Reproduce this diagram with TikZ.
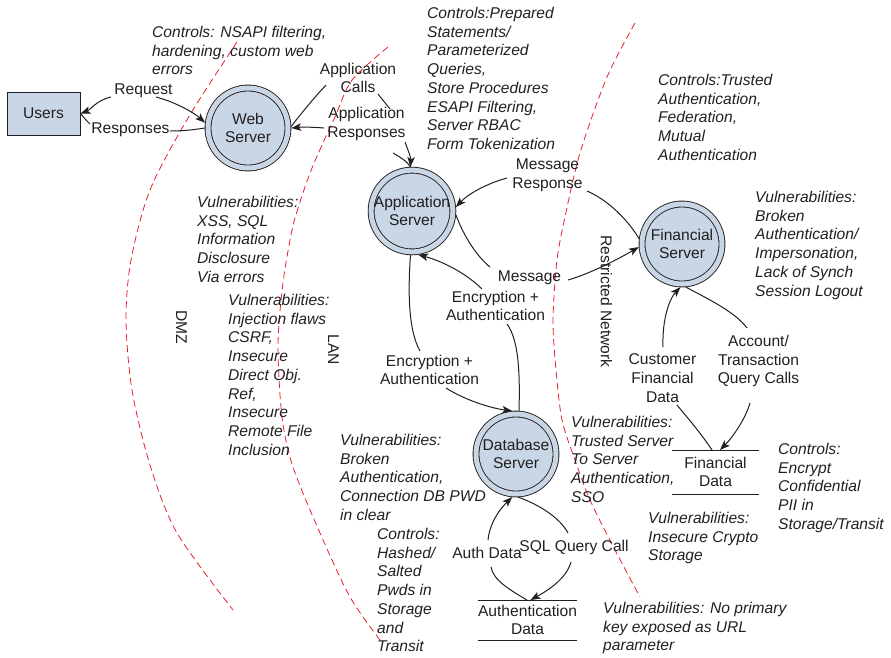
\documentclass[tikz,border=0pt]{standalone}
\usepackage{fontspec}
\setmainfont{Liberation Sans}
\usetikzlibrary{arrows.meta}
\definecolor{ink}{RGB}{35,31,32}
\definecolor{procfill}{RGB}{200,214,230}
\definecolor{zonered}{RGB}{232,32,42}
\begin{document}
\begin{tikzpicture}[x=1pt,y=-1pt,
  every node/.style={text=ink},
  basefont/.style={font=\fontsize{15.6}{18.7}\selectfont},
  proc/.style={basefont, circle, draw=ink, line width=0.9pt, fill=procfill, double=procfill,
    double distance=5pt, minimum size=80pt, inner sep=0pt, outer sep=3.2pt, align=center},
  ent/.style={basefont, rectangle, draw=ink, line width=1pt, fill=procfill,
    minimum width=73pt, minimum height=43pt},
  store/.style={basefont, inner sep=0pt, outer sep=0pt, align=center},
  storeline/.style={draw=ink, line width=1pt},
  lbl/.style={basefont, align=center, inner sep=0pt},
  note/.style={font=\fontsize{15.6}{18.7}\selectfont\itshape, align=left, anchor=north west, inner sep=0pt},
  conn/.style={draw=ink, line width=1pt},
  arr/.style={conn, -{Stealth[length=10pt,width=7.5pt,inset=2.5pt]}},
  zone/.style={draw=zonered, line width=0.8pt, dash pattern=on 7pt off 4pt}
]
\useasboundingbox (0,0) rectangle (891,657);

% zone boundaries
\draw[zone] plot[smooth] coordinates {(237,42) (188,118) (150,190) (131,260) (126,320) (132,390) (150,465) (177,533) (233,610)};
\draw[zone] plot[smooth] coordinates {(388,47) (352,80) (335,117) (322,145) (310,173) (300,202) (292,230) (283,283) (278,345) (282,417) (293,467) (320,533) (350,597) (380,640)};
\draw[zone] plot[smooth] coordinates {(635,23) (607,77) (580,153) (565,217) (557,260) (553,320) (556,370) (562,420) (575,460) (590,500) (615,550) (640,597)};

% zone labels
\node[lbl, rotate=-90] (ldmz) at (181.5,327.5) {DMZ};
\node[lbl, rotate=-90] (llan) at (333.5,350) {LAN};
\node[lbl, rotate=-90] (lrn) at (606.5,301.5) {Restricted Network};

% entities and processes
\node[ent] (users) at (43.5,113.5) {Users};
\node[proc] (web) at (248,128) {Web\\Server};
\node[proc] (app) at (412,211) {Application\\Server};
\node[proc] (fin) at (682,244) {Financial\\Server};
\node[proc] (db) at (516,454) {Database\\Server};

% data stores
\node[store, minimum width=87pt, minimum height=44pt] (fd) at (715.5,472) {Financial\\Data};
\node[store, minimum width=97pt, minimum height=40pt] (ad) at (527.5,620) {Authentication\\Data};
\draw[storeline] (fd.north west) -- (fd.north east) (fd.south west) -- (fd.south east);
\draw[storeline] (ad.north west) -- (ad.north east) (ad.south west) -- (ad.south east);

% flow labels
\node[lbl] (lreq) at (143.5,91) {Request};
\node[lbl] (lresp) at (130.5,130) {Responses};
\node[lbl] (lac) at (358,78) {Application\\Calls};
\node[lbl] (lar) at (366.5,124) {Application\\Responses};
\node[lbl] (lmr) at (547.5,175) {Message\\Response};
\node[lbl] (lm) at (529.5,278) {Message};
\node[lbl] (le1) at (495.5,306) {Encryption +\\Authentication};
\node[lbl] (le2) at (429.5,370) {Encryption +\\Authentication};
\node[lbl] (lcf) at (662.5,378) {Customer\\Financial\\Data};
\node[lbl] (laq) at (758.5,361) {Account/\\Transaction\\Query Calls};
\node[lbl] (lad) at (487,553) {Auth Data};
\node[lbl] (lsq) at (574,547) {SQL Query Call};

% annotations
\node[note] (n1) at (152,26) {Controls: NSAPI filtering,\\hardening, custom web\\errors};
\node[note] (n2) at (427,7) {Controls:Prepared\\Statements/\\Parameterized\\Queries,\\Store Procedures\\ESAPI Filtering,\\Server RBAC\\Form Tokenization};
\node[note] (n3) at (658,74) {Controls:Trusted\\Authentication,\\Federation,\\Mutual\\Authentication};
\node[note] (n4) at (755,191) {Vulnerabilities:\\Broken\\Authentication/\\Impersonation,\\Lack of Synch\\Session Logout};
\node[note] (n5) at (197,196) {Vulnerabilities:\\XSS, SQL\\Information\\Disclosure\\Via errors};
\node[note] (n6) at (228,294) {Vulnerabilities:\\Injection flaws\\CSRF,\\Insecure\\Direct Obj.\\Ref,\\Insecure\\Remote File\\Inclusion};
\node[note] (n7) at (340,434) {Vulnerabilities:\\Broken\\Authentication,\\Connection DB PWD\\in clear};
\node[note] (n8) at (377,528) {Controls:\\Hashed/\\Salted\\Pwds in\\Storage\\and\\Transit};
\node[note] (n9) at (571,416) {Vulnerabilities:\\Trusted Server\\To Server\\Authentication,\\SSO};
\node[note] (n10) at (648,512) {Vulnerabilities:\\Insecure Crypto\\Storage};
\node[note] (n11) at (778,443) {Controls:\\Encrypt\\Confidential\\PII in\\Storage/Transit};
\node[note] (n12) at (603,602) {Vulnerabilities: No primary\\key exposed as URL\\parameter};

% connector end points near labels
\coordinate (rq1) at (111,97);
\coordinate (rq2) at (156,97);
\coordinate (rs1) at (170,131);
\coordinate (rs2) at (90,124);
\coordinate (ac1) at (326,85);
\coordinate (ac2) at (378,94);
\coordinate (ac3) at (390,109);
\coordinate (ac4) at (393,153);
\coordinate (ar1) at (324,128);
\coordinate (ar2) at (405,142);
\coordinate (mr1) at (587,191);
\coordinate (mr2) at (507,178);
\coordinate (m1) at (490,267);
\coordinate (m2) at (568,280);
\coordinate (e1) at (507,324);
\coordinate (e2) at (482,289);
\coordinate (e3) at (420,351);
\coordinate (e4) at (446,388);
\coordinate (cf1) at (677,405);
\coordinate (cf2) at (663,347);
\coordinate (aq1) at (747,328);
\coordinate (aq2) at (750,403);
\coordinate (ad1) at (491,567);
\coordinate (ad2) at (488,540);
\coordinate (sq1) at (568,533);
\coordinate (sq2) at (571,562);

% Request / Responses
\draw[arr] (rq1) .. controls (97,100) and (90,110) .. (users.east);
\draw[arr] (rq2) .. controls (175,102) and (193,112) .. (web.173);
\draw[conn] (web.180) .. controls (192,130) and (182,131) .. (rs1);
\draw[conn] (rs2) .. controls (87,121) and (84,118) .. (users.east);

% Application Calls / Responses
\draw[conn] (ac1) .. controls (312,100) and (300,115) .. (web.2);
\draw[arr] (ar1) .. controls (312,127) and (302,127) .. (web.0);
\draw[conn] (ac2) -- (ac3);
\draw[arr] (ar2) .. controls (408,150) and (411,158) .. (app.92);
\draw[conn] (ac4) .. controls (400,157) and (408,162) .. (app.92);

% Message Response
\draw[conn] (mr1) .. controls (608,200) and (628,220) .. (fin.173);
\draw[arr] (mr2) .. controls (485,184) and (467,195) .. (app.5);

% Message
\draw[conn] (app.-5) .. controls (462,232) and (475,255) .. (m1);
\draw[arr] (m2) .. controls (592,273) and (620,258) .. (fin.184);

% Encryption + Authentication (DB to App)
\draw[conn] (db.86) .. controls (520,375) and (519,340) .. (e1);
\draw[arr] (e2) .. controls (468,275) and (445,262) .. (app.-82);

% Encryption + Authentication (App to DB)
\draw[conn] (app.-92) .. controls (408,290) and (408,330) .. (e3);
\draw[arr] (e4) .. controls (465,400) and (490,408) .. (db.95);

% Customer Financial Data
\draw[conn] ([xshift=-3.5pt]fd.north) .. controls (700,432) and (686,416) .. (cf1);
\draw[arr] (cf2) .. controls (662,318) and (670,298) .. (fin.-92);

% Account / Transaction Query Calls
\draw[conn] (fin.-85) .. controls (710,300) and (735,312) .. (aq1);
\draw[arr] (aq2) .. controls (745,420) and (732,438) .. ([xshift=4.5pt]fd.north);

% Auth Data
\draw[conn] ([xshift=-0.5pt]ad.north) .. controls (510,590) and (493,580) .. (ad1);
\draw[arr] (ad2) .. controls (490,520) and (503,506) .. (db.-95);

% SQL Query Call
\draw[conn] (db.-87) .. controls (540,505) and (560,518) .. (sq1);
\draw[arr] (sq2) .. controls (566,580) and (545,592) .. ([xshift=3pt]ad.north);
\end{tikzpicture}
\end{document}
